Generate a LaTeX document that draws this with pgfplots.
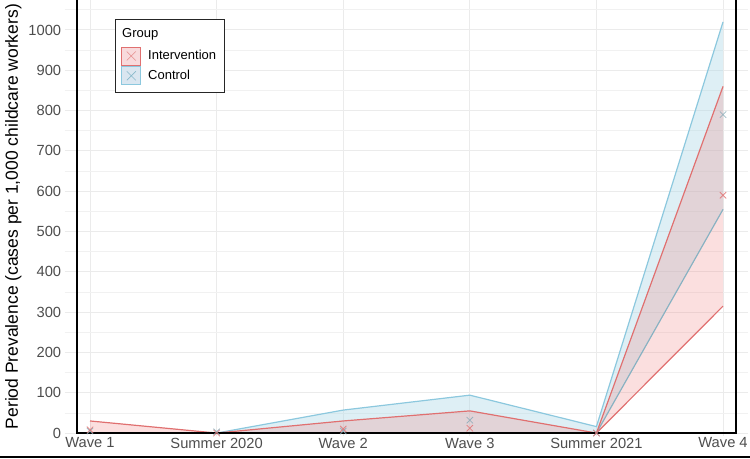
\documentclass[border=0pt]{standalone}
\usepackage{fontspec}
\setmainfont{Liberation Sans}
\usepackage{pgfplots}
\usepackage{pgfplotstable}
\pgfplotsset{compat=1.18}
\usepgfplotslibrary{fillbetween}

\definecolor{intline}{RGB}{224,112,112}
\definecolor{intfill}{RGB}{240,128,128}
\definecolor{intkey}{RGB}{248,218,220}
\definecolor{ctlline}{RGB}{140,200,222}
\definecolor{ctlfill}{RGB}{173,216,230}
\definecolor{ctlkey}{RGB}{218,230,240}
\definecolor{gridc}{RGB}{235,235,235}
\definecolor{tickc}{RGB}{77,77,77}

% x: 0 Wave 1, 1 Summer 2020, 2 Wave 2, 3 Wave 3, 4 Summer 2021, 5 Wave 4
\pgfplotstableread{
x est lo hi
0 8 0 30
1 0 0 0
2 10 0 30
3 12 0 55
4 0 0 0
5 590 315 860
}\intv
\pgfplotstableread{
x est lo hi
0 5 0 0
1 3 0 0
2 5 0 57
3 32 0 94
4 0 0 16
5 790 555 1020
}\ctrl

\begin{document}
\begin{tikzpicture}
\begin{axis}[
    scale only axis,
    width=683.6pt, height=439.3pt,
    xmin=-0.2, xmax=5.2, ymin=-8, ymax=1082,
    clip=false,
    axis line style={draw=none},
    major tick length=0pt, minor tick length=0pt,
    xtick={0,...,5},
    xticklabels={Wave 1, Summer 2020, Wave 2, Wave 3, Summer 2021, Wave 4},
    ytick={0,100,...,1000},
    minor ytick={50,150,...,1050},
    /pgf/number format/assume math mode=true,
    /pgf/number format/1000 sep={},
    xmajorgrids, ymajorgrids, yminorgrids,
    major grid style={gridc, line width=1pt},
    minor grid style={gridc!70, line width=0.7pt},
    tick label style={font=\fontsize{14.7}{17}\selectfont, text=tickc},
    xticklabel style={yshift=2pt},
    ylabel={Period Prevalence (cases per 1,000 childcare workers)},
    every axis y label/.style={at={(rel axis cs:0,0.5)}, rotate=90, anchor=south,
        inner sep=0pt, yshift=43pt, font=\fontsize{17.5}{20}\selectfont},
    legend style={at={(rel axis cs:0.0736,0.95)}, anchor=north west,
        draw=black!85, line width=0.8pt, fill=white,
        font=\fontsize{13}{15}\selectfont, row sep=1pt, column sep=5pt,
        inner xsep=6pt, inner ysep=7.5pt},
    legend cell align=left,
]
% Control band
\addplot[name path=cu, ctlline, line width=1.2pt, forget plot] table[x=x,y=hi]{\ctrl};
\addplot[name path=cl, ctlline!70!gray, line width=1.2pt, forget plot] table[x=x,y=lo]{\ctrl};
\addplot[ctlfill, fill opacity=0.4, draw=none, forget plot] fill between[of=cu and cl];
% Intervention band
\addplot[name path=iu, intline, line width=1.2pt, forget plot] table[x=x,y=hi]{\intv};
\addplot[name path=il, intline, line width=1.2pt, forget plot] table[x=x,y=lo]{\intv};
\addplot[intfill, fill opacity=0.25, draw=none, forget plot] fill between[of=iu and il];
% point estimates
\addplot[only marks, mark=x, mark size=4.5pt, line width=0.8pt, ctlline!60!gray, opacity=0.8, forget plot] table[x=x,y=est]{\ctrl};
\addplot[only marks, mark=x, mark size=4.5pt, line width=0.8pt, intline, opacity=0.8, forget plot] table[x=x,y=est]{\intv};

\addlegendimage{legend image code/.code={\path[draw=none,fill=none] (0pt,-11.5pt) rectangle (19pt,5pt);}}
\addlegendentry{\hspace{-26pt}Group}
\addlegendimage{legend image code/.code={
    \draw[draw=intline, fill=intkey, line width=0.8pt] (0pt,-9pt) rectangle (19pt,9pt);
    \draw[intline!80, line width=0.6pt] (5pt,-4.5pt)--(14pt,4.5pt) (5pt,4.5pt)--(14pt,-4.5pt);}}
\addlegendentry{Intervention}
\addlegendimage{legend image code/.code={
    \draw[draw=ctlline, fill=ctlkey, line width=0.8pt] (0pt,-9pt) rectangle (19pt,9pt);
    \draw[ctlline!80!gray, line width=0.6pt] (5pt,-4.5pt)--(14pt,4.5pt) (5pt,4.5pt)--(14pt,-4.5pt);}}
\addlegendentry{Control}

% panel lines
\draw[black, line width=1.3pt] (axis cs:-0.103,1082) -- (axis cs:-0.103,0) -- (axis cs:5.103,0) -- (axis cs:5.103,1082);
\draw[black, line width=2pt] (axis cs:-0.711,-59.6) -- (axis cs:5.213,-59.6);
\coordinate (pbl) at (axis cs:-0.711,-62);
\coordinate (ptr) at (axis cs:5.213,1074.4);
\end{axis}
\pgfresetboundingbox
\useasboundingbox (pbl) rectangle (ptr);
\end{tikzpicture}
\end{document}
